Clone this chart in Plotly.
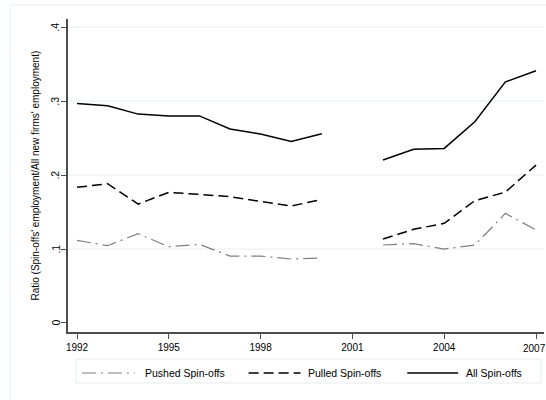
import plotly.graph_objects as go

years = list(range(1992, 2008))

# None marks the missing 2001 observation (line is broken there)
all_spinoffs = [0.2966, 0.2936, 0.2824, 0.2800, 0.2800, 0.2622, 0.2554, 0.2455, 0.2559,
                None, 0.2203, 0.2350, 0.2360, 0.2720, 0.3260, 0.3410]
pulled_spinoffs = [0.1834, 0.1883, 0.1608, 0.1766, 0.1739, 0.1707, 0.1644, 0.1581, 0.1671,
                   None, 0.1135, 0.1266, 0.1347, 0.1653, 0.1770, 0.2135]
pushed_spinoffs = [0.1117, 0.1045, 0.1207, 0.1031, 0.1063, 0.0905, 0.0905, 0.0865, 0.0878,
                   None, 0.1054, 0.1072, 0.1000, 0.1054, 0.1482, 0.1257]

x_ticks = [1992, 1995, 1998, 2001, 2004, 2007]
x_tick_text = ["1992", "1995", "1998", "2001", "2004", ""]  # last label drawn nudged inward
y_ticks = [0, 0.1, 0.2, 0.3, 0.4]
y_tick_text = ["0", ".1", ".2", ".3", ".4"]
grid_levels = [0.1, 0.2, 0.3, 0.4]

FONT = "Liberation Sans, Arial, sans-serif"
AXIS_COL = "#4d4d4d"
GRID_COL = "#e6eff0"
FRAME_COL = "#e3eced"

series = [
    ("Pushed Spin-offs", pushed_spinoffs, dict(color="#7f7f7f", width=1.2, dash="14px,5px,2px,5px")),
    ("Pulled Spin-offs", pulled_spinoffs, dict(color="#000000", width=1.5, dash="10px,5px")),
    ("All Spin-offs", all_spinoffs, dict(color="#000000", width=1.5)),
]

fig = go.Figure()
for name, vals, style in series:
    fig.add_trace(go.Scatter(x=years, y=vals, name=name, mode="lines",
                             line=style, connectgaps=False, showlegend=False))

shapes = []
for g in grid_levels:
    shapes.append(dict(type="line", xref="paper", yref="y", x0=0, x1=1, y0=g, y1=g,
                       line=dict(color=GRID_COL, width=1), layer="below"))
# outer graph-region frame
shapes.append(dict(type="rect", xref="paper", yref="paper",
                   x0=-0.1218, x1=1.2, y0=-0.4, y1=1.0447,
                   line=dict(color=FRAME_COL, width=1), layer="below"))

# legend box below the plot, one key per series
legend_y = -0.131
shapes.append(dict(type="rect", xref="paper", yref="paper",
                   x0=0.0168, x1=0.9937, y0=-0.1629, y1=-0.0863,
                   line=dict(color=FRAME_COL, width=1), layer="below"))
key_spans = [(0.0293, 0.1405, 0.1572), (0.3795, 0.4885, 0.499), (0.7128, 0.8197, 0.8323)]
annotations = []
for (name, _, style), (k0, k1, tx) in zip(series, key_spans):
    shapes.append(dict(type="line", xref="paper", yref="paper", x0=k0, x1=k1,
                       y0=legend_y, y1=legend_y, line=style))
    annotations.append(dict(text=name, xref="paper", yref="paper", x=tx, y=legend_y,
                            xanchor="left", yanchor="middle", showarrow=False,
                            font=dict(family=FONT, size=10.5, color="#000000")))

# rotated y tick labels
for val, txt in zip(y_ticks, y_tick_text):
    annotations.append(dict(text=txt, xref="paper", yref="y", x=-0.0262, y=val,
                            textangle=-90, xanchor="center", yanchor="middle",
                            showarrow=False,
                            font=dict(family=FONT, size=10.5, color="#000000")))

# y-axis title
annotations.append(dict(text="Ratio (Spin-offs' employment/All new firms' employment)",
                        xref="paper", yref="paper", x=-0.0692, y=0.5, textangle=-90,
                        xanchor="center", yanchor="middle", showarrow=False,
                        font=dict(family=FONT, size=10, color="#000000")))
# final x tick label, kept inside the page edge
annotations.append(dict(text=str(x_ticks[-1]), xref="x", yref="paper", x=x_ticks[-1], y=0,
                        xshift=-2, yshift=-9, xanchor="center", yanchor="top",
                        showarrow=False, font=dict(family=FONT, size=10, color="#000000")))

fig.update_layout(
    width=546, height=400,
    margin=dict(l=68, r=2, t=19, b=68),
    paper_bgcolor="white", plot_bgcolor="white",
    font=dict(family=FONT, size=10, color="#000000"),
    showlegend=False,
    shapes=shapes,
    annotations=annotations,
    xaxis=dict(range=[1991.706, 2007.261], tickmode="array", tickvals=x_ticks,
               ticktext=x_tick_text,
               showgrid=False, zeroline=False, showline=True, linecolor=AXIS_COL,
               linewidth=1.5, ticks="outside", ticklen=5, tickcolor=AXIS_COL,
               automargin=False,
               tickfont=dict(family=FONT, size=10)),
    yaxis=dict(range=[-0.0122, 0.411], tickmode="array", tickvals=y_ticks,
               showticklabels=False,
               showgrid=False, zeroline=False, showline=True, linecolor=AXIS_COL,
               linewidth=1.5, ticks="outside", ticklen=5, tickcolor=AXIS_COL,
               automargin=False),
)

fig.write_html("out.html")
